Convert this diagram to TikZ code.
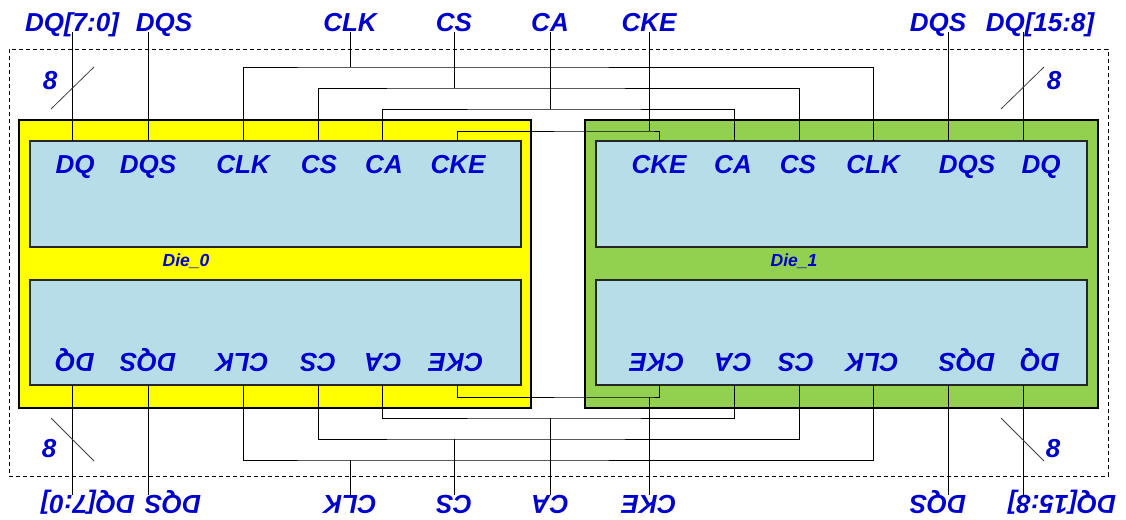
\documentclass[tikz,border=0pt]{standalone}
\usepackage{fontspec}
\newfontfamily\pinfont{Liberation Sans}
\definecolor{pinblue}{HTML}{0000CC}
\definecolor{dieyellow}{HTML}{FFFF00}
\definecolor{diegreen}{HTML}{92D050}
\definecolor{padblue}{HTML}{B7DEE8}
\begin{document}
\begin{tikzpicture}[
    x=1pt, y=-1pt,
    sig/.style={font=\pinfont\bfseries\itshape\fontsize{26}{30}\selectfont,
                text=pinblue, inner sep=0pt, text depth=0pt, anchor=base},
    flipsig/.style={sig, rotate=180},
    dielabel/.style={font=\pinfont\bfseries\itshape\fontsize{17.5}{20}\selectfont,
                     text=pinblue, inner sep=0pt, text depth=0pt, anchor=base},
    die/.style={rectangle, draw, line width=1.2pt,
                minimum width=512, minimum height=288},
    pad/.style={rectangle, draw=black!85, line width=1.2pt, fill=padblue,
                minimum width=491, minimum height=106},
    frame/.style={rectangle, draw, line width=0.8pt, dash pattern=on 4pt off 3pt,
                  minimum width=1099, minimum height=427},
    wire/.style={line width=0.9pt},
    buswidth/.style={line width=0.8pt, black!75},
]
\useasboundingbox (0,0) rectangle (1126,519);

% ============== package outline and dies ==============
\node[frame] (pkg) at (558.5,262.5) {};
\node[die, fill=dieyellow] (die0) at (275,264) {};
\node[die, fill=diegreen, minimum width=513] (die1) at (841.5,264) {};
\node[pad] (pad0u) at (275.5,194) {};
\node[pad, minimum height=105] (pad0l) at (275.5,332.5) {};
\node[pad] (pad1u) at (841.5,194) {};
\node[pad, minimum height=105] (pad1l) at (841.5,332.5) {};
\node[dielabel] (name0) at (186,266) {Die\_0};
\node[dielabel] (name1) at (794,266) {Die\_1};

% ============== pin points ==============
\coordinate (u0DQ) at (72,141);
\coordinate (u0DQS) at (148,141);
\coordinate (u0CLK) at (243,141);
\coordinate (u0CS) at (318,141);
\coordinate (u0CA) at (382,141);
\coordinate (u0CKE) at (457,141);
\coordinate (u1CKE) at (659,141);
\coordinate (u1CA) at (734,141);
\coordinate (u1CS) at (799,141);
\coordinate (u1CLK) at (873,141);
\coordinate (u1DQS) at (948,141);
\coordinate (u1DQ) at (1023,141);

\coordinate (l0DQ) at (72,385);
\coordinate (l0DQS) at (148,385);
\coordinate (l0CLK) at (243,385);
\coordinate (l0CS) at (318,385);
\coordinate (l0CA) at (382,385);
\coordinate (l0CKE) at (457,385);
\coordinate (l1CKE) at (659,385);
\coordinate (l1CA) at (734,385);
\coordinate (l1CS) at (799,385);
\coordinate (l1CLK) at (873,385);
\coordinate (l1DQS) at (948,385);
\coordinate (l1DQ) at (1023,385);

% ============== pad labels ==============
\node[sig] (p0DQ) at (75,173) {DQ};
\node[sig] (p0DQS) at (148,173) {DQS};
\node[sig] (p0CLK) at (243,173) {CLK};
\node[sig] (p0CS) at (319,173) {CS};
\node[sig] (p0CA) at (384,173) {CA};
\node[sig] (p0CKE) at (458,173) {CKE};
\node[sig] (p1CKE) at (659,173) {CKE};
\node[sig] (p1CA) at (733,173) {CA};
\node[sig] (p1CS) at (798,173) {CS};
\node[sig] (p1CLK) at (873,173) {CLK};
\node[sig] (p1DQS) at (967,173) {DQS};
\node[sig] (p1DQ) at (1041,173) {DQ};

\node[flipsig] (q0DQ) at (75,353) {DQ};
\node[flipsig] (q0DQS) at (148,353) {DQS};
\node[flipsig] (q0CLK) at (242,353) {CLK};
\node[flipsig] (q0CS) at (318,353) {CS};
\node[flipsig] (q0CA) at (383,353) {CA};
\node[flipsig] (q0CKE) at (456,353) {CKE};
\node[flipsig] (q1CKE) at (657,353) {CKE};
\node[flipsig] (q1CA) at (733,353) {CA};
\node[flipsig] (q1CS) at (796,353) {CS};
\node[flipsig] (q1CLK) at (872,353) {CLK};
\node[flipsig] (q1DQS) at (967,353) {DQS};
\node[flipsig] (q1DQ) at (1040,353) {DQ};

% ============== package balls (top) ==============
\node[sig] (tDQ0) at (72,32) {DQ[7:0]};
\node[sig] (tDQS0) at (164,32) {DQS};
\node[sig] (tCLK) at (350,32) {CLK};
\node[sig] (tCS) at (454,32) {CS};
\node[sig] (tCA) at (550,32) {CA};
\node[sig] (tCKE) at (649,32) {CKE};
\node[sig] (tDQS1) at (938,32) {DQS};
\node[sig] (tDQ1) at (1040,32) {DQ[15:8]};

% ============== package balls (bottom, flipped) ==============
\node[flipsig] (bDQ0) at (88,495) {DQ[7:0]};
\node[flipsig] (bDQS0) at (173,495) {DQS};
\node[flipsig] (bCLK) at (350,495) {CLK};
\node[flipsig] (bCS) at (454,495) {CS};
\node[flipsig] (bCA) at (550,495) {CA};
\node[flipsig] (bCKE) at (649,495) {CKE};
\node[flipsig] (bDQS1) at (938,495) {DQS};
\node[flipsig] (bDQ1) at (1062,495) {DQ[15:8]};

% ============== shared bus taps ==============
\coordinate (clkT) at (350,67);
\coordinate (csT) at (454,88);
\coordinate (caT) at (550,109);
\coordinate (ckeT) at (649,131);
\coordinate (ckeB) at (649,397);
\coordinate (caB) at (550,418);
\coordinate (csB) at (454,439);
\coordinate (clkB) at (350,460);

% top wiring
\draw[wire] (tDQ0.south -| u0DQ) -- (u0DQ);
\draw[wire] (tDQS0.south -| u0DQS) -- (u0DQS);
\draw[wire] (tDQS1.south -| u1DQS) -- (u1DQS);
\draw[wire] (tDQ1.south -| u1DQ) -- (u1DQ);
\draw[wire] (u0CLK) |- (clkT) -| (u1CLK);
\draw[wire] (u0CS) |- (csT) -| (u1CS);
\draw[wire] (u0CA) |- (caT) -| (u1CA);
\draw[wire] (u0CKE) |- (ckeT) -| (u1CKE);
\draw[wire] (tCLK) -- (clkT);
\draw[wire] (tCS) -- (csT);
\draw[wire] (tCA) -- (caT);
\draw[wire] (tCKE) -- (ckeT);

% bottom wiring
\draw[wire] (l0DQ) -- (bDQ0.south -| l0DQ);
\draw[wire] (l0DQS) -- (bDQS0.south -| l0DQS);
\draw[wire] (l1DQS) -- (bDQS1.south -| l1DQS);
\draw[wire] (l1DQ) -- (bDQ1.south -| l1DQ);
\draw[wire] (l0CLK) |- (clkB) -| (l1CLK);
\draw[wire] (l0CS) |- (csB) -| (l1CS);
\draw[wire] (l0CA) |- (caB) -| (l1CA);
\draw[wire] (l0CKE) |- (ckeB) -| (l1CKE);
\draw[wire] (bCLK) -- (clkB);
\draw[wire] (bCS) -- (csB);
\draw[wire] (bCA) -- (caB);
\draw[wire] (bCKE) -- (ckeB);

% ============== bus width marks ==============
\draw[buswidth] (51,109) -- (94,67);
\draw[buswidth] (1001,109) -- (1044,67);
\draw[buswidth] (51,418) -- (94,461);
\draw[buswidth] (1001,418) -- (1044,461);
\node[sig, anchor=center] (w0t) at (50,80) {8};
\node[sig, anchor=center] (w1t) at (1054,80) {8};
\node[sig, anchor=center] (w0b) at (49,448) {8};
\node[sig, anchor=center] (w1b) at (1053,448) {8};

\end{tikzpicture}
\end{document}
